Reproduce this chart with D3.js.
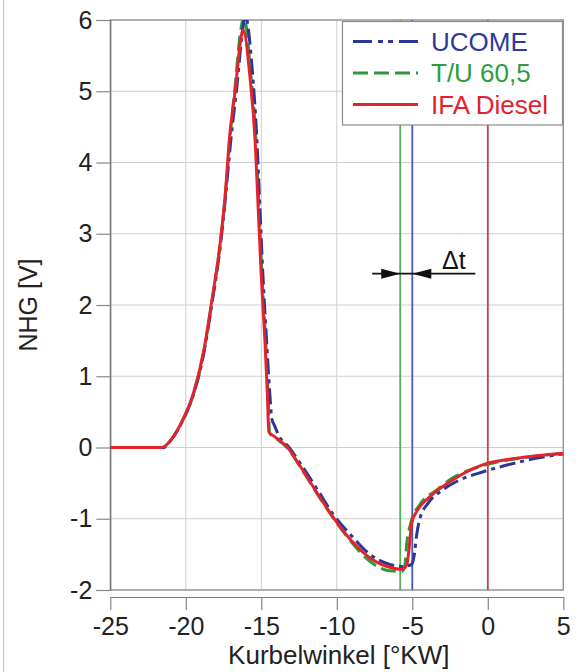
<!DOCTYPE html>
<html>
<head>
<meta charset="utf-8">
<script src="https://cdn.jsdelivr.net/npm/d3@7"></script>
<style>
  html, body { margin: 0; padding: 0; background: #fff; }
  svg { display: block; font-family: "Liberation Sans", Arial, Helvetica, sans-serif; }
</style>
</head>
<body>
<svg id="chart" width="584" height="672"></svg>
<script>
// Crank angle [°KW] and needle lift signal [V] for each fuel
const ucomeAngle = [-25, -21.5, -21.0, -20.2, -19.5, -18.8, -18.3, -17.7, -17.4, -17.0, -16.6, -16.3, -16.05, -15.6, -15.3, -15.1, -14.9, -14.65, -14.45, -14.3, -14.15, -13.8, -13.2, -12.3, -11.2, -10.2, -9.1, -7.8, -6.5, -5.6, -5.05, -4.85, -4.72, -4.5, -3.95, -2.95, -2.0, -0.3, 1.2, 3.0, 5.0];
const ucomeValue = [0, 0, 0.1, 0.38, 0.74, 1.33, 1.98, 2.85, 3.45, 4.35, 5.1, 5.75, 6.05, 5.3, 4.35, 3.4, 2.45, 1.5, 0.8, 0.4, 0.32, 0.15, 0.01, -0.26, -0.62, -0.95, -1.22, -1.5, -1.64, -1.67, -1.64, -1.48, -1.24, -1.0, -0.78, -0.59, -0.47, -0.34, -0.25, -0.16, -0.09];

const tuAngle = [-25, -21.5, -21.0, -20.2, -19.5, -18.8, -18.3, -17.7, -17.4, -17.05, -16.7, -16.4, -16.15, -15.7, -15.35, -15.15, -14.95, -14.7, -14.55, -14.45, -14.1, -13.3, -12.4, -11.3, -10.2, -9.1, -7.8, -6.5, -5.7, -5.5, -5.37, -5.1, -4.5, -3.4, -2.5, -1.0, 0.5, 2.5, 5.0];
const tuValue = [0, 0, 0.1, 0.38, 0.74, 1.35, 2.0, 2.9, 3.5, 4.4, 5.15, 5.8, 6.05, 5.25, 4.3, 3.35, 2.4, 1.45, 0.75, 0.2, 0.14, 0.0, -0.28, -0.65, -1.0, -1.31, -1.6, -1.73, -1.74, -1.66, -1.35, -1.06, -0.8, -0.6, -0.45, -0.3, -0.21, -0.14, -0.08];

const ifaAngle = [-25, -21.6, -21.0, -20.2, -19.5, -18.8, -18.3, -17.7, -17.4, -17.1, -16.7, -16.4, -16.2, -15.75, -15.4, -15.2, -15.0, -14.75, -14.6, -14.5, -14.1, -13.3, -12.4, -11.3, -10.2, -9.1, -7.8, -6.5, -5.7, -5.37, -5.2, -5.04, -4.71, -3.83, -2.5, -1.0, 0, 1.9, 5.0];
const ifaValue = [0, 0, 0.1, 0.39, 0.76, 1.37, 2.03, 2.91, 3.52, 4.36, 5.06, 5.67, 5.86, 5.2, 4.27, 3.33, 2.4, 1.46, 0.76, 0.22, 0.15, 0.01, -0.27, -0.64, -0.99, -1.29, -1.55, -1.68, -1.71, -1.65, -1.39, -1.06, -0.9, -0.69, -0.48, -0.3, -0.22, -0.15, -0.08];

// Injection start markers (vertical lines) per fuel
const markerNames = ["T/U 60,5", "UCOME", "IFA Diesel"];
const markerAngle = [-5.8, -5.0, 0.0];

// Δt annotation between the two marker lines
const deltaLevel = 2.44;
const deltaLabelAngle = -2.25;

const seriesNames = ["UCOME", "T/U 60,5", "IFA Diesel"];
const xTicks = [-25, -20, -15, -10, -5, 0, 5];
const yTicks = [-2, -1, 0, 1, 2, 3, 4, 5, 6];

const svg = d3.select("#chart");
const plotLeft = 110.3, plotRight = 563.3, plotTop = 20, plotBottom = 590;

const x = d3.scaleLinear().domain([-25, 5]).range([plotLeft, plotRight]);
const y = d3.scaleLinear().domain([-2, 6]).range([plotBottom, plotTop]);

// plain hyphen for negative tick labels
const tickText = d => String(d);

const style = {
  "UCOME":      { color: "#2c3796", dash: "16,5,4,5", text: "#2d3a9c", marker: "#5058b0" },
  "T/U 60,5":   { color: "#2e9b3a", dash: "15,6",     text: "#2f9b3d", marker: "#52ad5a" },
  "IFA Diesel": { color: "#e3242d", dash: null,       text: "#e2232c", marker: "#c8404c" }
};

// thin figure border on the left
svg.append("line").attr("x1", 3.5).attr("x2", 3.5).attr("y1", 0).attr("y2", 672)
  .attr("stroke", "#c8c8c8").attr("stroke-width", 1.2);

// grid
const grid = svg.append("g");
grid.selectAll("line.gx").data(xTicks).join("line").attr("class", "gx")
  .attr("x1", d => x(d)).attr("x2", d => x(d)).attr("y1", plotTop).attr("y2", plotBottom)
  .attr("stroke", "#cfcfcf").attr("stroke-width", 1);
grid.selectAll("line.gy").data(yTicks).join("line").attr("class", "gy")
  .attr("x1", plotLeft).attr("x2", plotRight).attr("y1", d => y(d)).attr("y2", d => y(d))
  .attr("stroke", "#cfcfcf").attr("stroke-width", 1);

// frame
svg.append("rect").attr("x", plotLeft).attr("y", plotTop)
  .attr("width", plotRight - plotLeft).attr("height", plotBottom - plotTop)
  .attr("fill", "none").attr("stroke", "#8a8a8a").attr("stroke-width", 1.2);

// y axis
const yAxis = svg.append("g").attr("transform", `translate(${plotLeft},0)`)
  .call(d3.axisLeft(y).tickValues(yTicks).tickSize(14).tickPadding(4).tickFormat(tickText));
yAxis.select(".domain").attr("stroke", "#777").attr("stroke-width", 1.2);
yAxis.selectAll(".tick line").attr("stroke", "#888").attr("stroke-width", 1.2);
yAxis.selectAll(".tick text").attr("font-size", 25).attr("fill", "#222")
  .attr("font-family", "Liberation Sans, Arial, sans-serif");

// x axis, offset below the plot
const xAxis = svg.append("g").attr("transform", `translate(0,${plotBottom + 7})`)
  .call(d3.axisBottom(x).tickValues(xTicks).tickSize(13).tickPadding(7).tickSizeOuter(0).tickFormat(tickText));
xAxis.select(".domain").attr("stroke", "#777").attr("stroke-width", 1.2);
xAxis.selectAll(".tick line").attr("stroke", "#888").attr("stroke-width", 1.2);
xAxis.selectAll(".tick text").attr("font-size", 25).attr("fill", "#222")
  .attr("font-family", "Liberation Sans, Arial, sans-serif");

// axis titles
svg.append("text").attr("x", (plotLeft + plotRight) / 2 + 2).attr("y", 664).attr("text-anchor", "middle")
  .attr("font-size", 26).attr("fill", "#222").text("Kurbelwinkel [°KW]");
svg.append("text").attr("transform", `translate(37,${(plotTop + plotBottom) / 2}) rotate(-90)`)
  .attr("text-anchor", "middle").attr("font-size", 25).attr("fill", "#222").text("NHG [V]");

// clip curves to the plot area
svg.append("clipPath").attr("id", "plotClip").append("rect")
  .attr("x", plotLeft).attr("y", plotTop).attr("width", plotRight - plotLeft).attr("height", plotBottom - plotTop);

// marker lines
svg.append("g").selectAll("line").data(markerNames).join("line")
  .attr("x1", (d, i) => x(markerAngle[i])).attr("x2", (d, i) => x(markerAngle[i]))
  .attr("y1", plotTop).attr("y2", plotBottom)
  .attr("stroke", d => style[d].marker).attr("stroke-width", 1.8);

// curves
const line = d3.line().x(d => x(d[0])).y(d => y(d[1])).curve(d3.curveMonotoneX);
const series = [
  { name: "T/U 60,5",   pts: d3.zip(tuAngle, tuValue) },
  { name: "UCOME",      pts: d3.zip(ucomeAngle, ucomeValue) },
  { name: "IFA Diesel", pts: d3.zip(ifaAngle, ifaValue) }
];
const curves = svg.append("g").attr("clip-path", "url(#plotClip)");
curves.selectAll("path").data(series).join("path")
  .attr("d", d => line(d.pts))
  .attr("fill", "none")
  .attr("stroke", d => style[d.name].color)
  .attr("stroke-width", 3)
  .attr("stroke-linejoin", "round")
  .attr("stroke-dasharray", d => style[d.name].dash);

// Δt annotation
const ay = y(deltaLevel);
const xa = x(markerAngle[0]), xb = x(markerAngle[1]);
svg.append("line").attr("x1", xa - 28).attr("x2", xb + 63).attr("y1", ay).attr("y2", ay)
  .attr("stroke", "#111").attr("stroke-width", 1.6);
svg.append("path").attr("d", `M${xa},${ay} L${xa - 19},${ay - 5} L${xa - 19},${ay + 5} Z`).attr("fill", "#111");
svg.append("path").attr("d", `M${xb},${ay} L${xb + 19},${ay - 5} L${xb + 19},${ay + 5} Z`).attr("fill", "#111");
svg.append("text").attr("x", x(deltaLabelAngle)).attr("y", ay - 5).attr("text-anchor", "middle")
  .attr("font-size", 25).attr("fill", "#111").text("Δt");

// legend
const lg = svg.append("g");
lg.append("rect").attr("x", 342.5).attr("y", 21.5).attr("width", 220).attr("height", 103.5)
  .attr("fill", "#fff").attr("stroke", "#8a8a8a").attr("stroke-width", 1.2);
const rows = [41.5, 73, 104.5];
seriesNames.forEach((name, i) => {
  lg.append("line").attr("x1", 353).attr("x2", 418).attr("y1", rows[i]).attr("y2", rows[i])
    .attr("stroke", style[name].color).attr("stroke-width", 3)
    .attr("stroke-dasharray", name === "UCOME" ? "19,6,5,5,5,6" : style[name].dash);
  lg.append("text").attr("x", 431).attr("y", rows[i] + 9).attr("font-size", 26)
    .attr("fill", style[name].text).text(name);
});
</script>
</body>
</html>
